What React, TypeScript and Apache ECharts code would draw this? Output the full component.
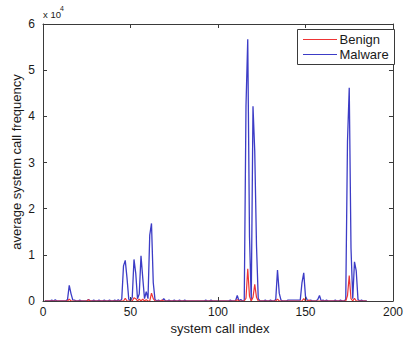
import React, { useEffect, useRef } from "react";
import * as echarts from "echarts";

// x positions (system call index) with non-zero average frequency; all other indices read as 0
const indexCount = 185;
const malwareIdx = [5, 7, 14, 15, 16, 17, 18, 21, 26, 29, 32, 35, 38, 41, 43, 45, 46, 47, 48, 49, 51, 52, 53, 54, 55, 56, 57, 58, 59, 60, 61, 62, 63, 64, 66, 69, 72, 75, 78, 81, 93, 96, 107, 111, 113, 116, 117, 118, 120, 121, 122, 123, 127, 130, 133, 134, 135, 136, 140, 141, 142, 143, 144, 145, 146, 147, 148, 149, 150, 151, 153, 157, 158, 160, 162, 167, 170, 173, 174, 175, 176, 177, 178, 179, 180, 182];
const malwareVal = [200, 250, 300, 3400, 1600, 250, 200, 200, 300, 200, 200, 200, 200, 200, 250, 400, 7600, 8800, 5000, 400, 800, 9000, 6000, 500, 1500, 9800, 5000, 500, 2000, 500, 14300, 16800, 4000, 300, 200, 500, 200, 200, 200, 200, 200, 200, 200, 1200, 300, 42300, 56700, 14000, 42200, 32400, 12000, 500, 200, 200, 300, 6700, 1700, 200, 200, 200, 200, 200, 200, 200, 200, 200, 4000, 6100, 1000, 200, 200, 300, 1200, 200, 200, 200, 200, 300, 34600, 46200, 11500, 500, 8500, 6500, 300, 200];
const benignIdx = [15, 26, 47, 52, 53, 55, 57, 59, 62, 63, 68, 111, 116, 117, 118, 120, 121, 122, 134, 149, 152, 174, 175, 176, 178];
const benignVal = [400, 300, 600, 700, 500, 400, 400, 300, 1700, 500, 200, 300, 600, 7000, 1000, 800, 3600, 800, 400, 500, 200, 1200, 5500, 500, 600];

const xTicks = [0, 50, 100, 150, 200];
const yTicks = [0, 1, 2, 3, 4, 5, 6];
const yScale = 10000;

function buildSeries(idx: number[], val: number[]) {
  const m = new Map<number, number>();
  idx.forEach((k, i) => m.set(k, val[i]));
  const out: [number, number][] = [];
  for (let i = 1; i <= indexCount; i++) out.push([i, m.get(i) ?? 0]);
  return out;
}

const FONT = "Liberation Sans, Arial, Helvetica, sans-serif";
const AXIS = "#3a3a3a";
const BLUE = "#3c3cc6";
const RED = "#ee3434";

export default function App() {
  const ref = useRef<HTMLDivElement>(null);
  useEffect(() => {
    document.body.style.margin = "0";
    const chart = echarts.init(ref.current!, null, { renderer: "svg" });
    const axisCommonX = {
      type: "value" as const,
      min: xTicks[0],
      max: xTicks[xTicks.length - 1],
      interval: 50,
      splitLine: { show: false },
      axisLine: { show: true, onZero: false, lineStyle: { color: AXIS, width: 1 } },
      axisTick: { show: true, inside: true, length: 4, lineStyle: { color: AXIS } },
      z: 5,
    };
    const axisCommonY = {
      type: "value" as const,
      min: yTicks[0] * yScale,
      max: yTicks[yTicks.length - 1] * yScale,
      interval: yScale,
      splitLine: { show: false },
      axisLine: { show: true, onZero: false, lineStyle: { color: AXIS, width: 1 } },
      axisTick: { show: true, inside: true, length: 4, lineStyle: { color: AXIS } },
      z: 5,
    };
    chart.setOption({
      animation: false,
      backgroundColor: "#ffffff",
      grid: { left: 43, right: 9, top: 24, bottom: 39 },
      xAxis: [
        {
          ...axisCommonX,
          position: "bottom",
          axisLabel: { show: true, color: "#1a1a1a", fontSize: 12, fontFamily: FONT, margin: 5 },
        },
        { ...axisCommonX, position: "top", axisLabel: { show: false } },
      ],
      yAxis: [
        {
          ...axisCommonY,
          position: "left",
          axisLabel: {
            show: true,
            color: "#1a1a1a",
            fontSize: 12,
            fontFamily: FONT,
            margin: 8,
            formatter: (v: number) => String(v / yScale),
          },
        },
        { ...axisCommonY, position: "right", axisLabel: { show: false } },
      ],
      series: [
        {
          name: "Malware",
          type: "line",
          xAxisIndex: 0,
          yAxisIndex: 0,
          data: buildSeries(malwareIdx, malwareVal),
          showSymbol: false,
          symbol: "none",
          lineStyle: { color: BLUE, width: 1.3 },
          itemStyle: { color: BLUE },
          z: 2,
        },
        {
          name: "Benign",
          type: "line",
          xAxisIndex: 0,
          yAxisIndex: 0,
          data: buildSeries(benignIdx, benignVal),
          showSymbol: false,
          symbol: "none",
          lineStyle: { color: RED, width: 1.2 },
          itemStyle: { color: RED },
          z: 3,
        },
      ],
      graphic: [
        {
          type: "text",
          x: 43,
          y: 9,
          style: { text: "x 10", font: `9.5px ${FONT}`, fill: "#1a1a1a" },
        },
        {
          type: "text",
          x: 60,
          y: 5,
          style: { text: "4", font: `7px ${FONT}`, fill: "#1a1a1a" },
        },
        {
          type: "text",
          x: 16,
          y: 162,
          rotation: Math.PI / 2,
          style: {
            text: "average system call frequency",
            font: `13px ${FONT}`,
            fill: "#1a1a1a",
            textAlign: "center",
            textVerticalAlign: "middle",
          },
        },
        {
          type: "text",
          x: 220,
          y: 328,
          style: {
            text: "system call index",
            font: `13px ${FONT}`,
            fill: "#1a1a1a",
            textAlign: "center",
            textVerticalAlign: "middle",
          },
        },
        {
          type: "group",
          z: 100,
          children: [
            {
              type: "rect",
              shape: { x: 297.5, y: 29.5, width: 97, height: 35 },
              style: { fill: "#ffffff", stroke: AXIS, lineWidth: 1 },
              z: 100,
            },
            {
              type: "line",
              shape: { x1: 303, y1: 39.5, x2: 337, y2: 39.5 },
              style: { stroke: RED, lineWidth: 1 },
              z: 101,
            },
            {
              type: "line",
              shape: { x1: 303, y1: 54.5, x2: 337, y2: 54.5 },
              style: { stroke: BLUE, lineWidth: 1 },
              z: 101,
            },
            {
              type: "text",
              x: 339.5,
              y: 39.5,
              z: 101,
              style: { text: "Benign", font: `13px ${FONT}`, fill: "#1a1a1a", textVerticalAlign: "middle" },
            },
            {
              type: "text",
              x: 339.5,
              y: 54.5,
              z: 101,
              style: { text: "Malware", font: `13px ${FONT}`, fill: "#1a1a1a", textVerticalAlign: "middle" },
            },
          ],
        },
      ],
    });
    return () => chart.dispose();
  }, []);
  return (
    <div
      ref={ref}
      style={{ position: "absolute", left: 0, top: 0, width: 406, height: 340 }}
    />
  );
}
